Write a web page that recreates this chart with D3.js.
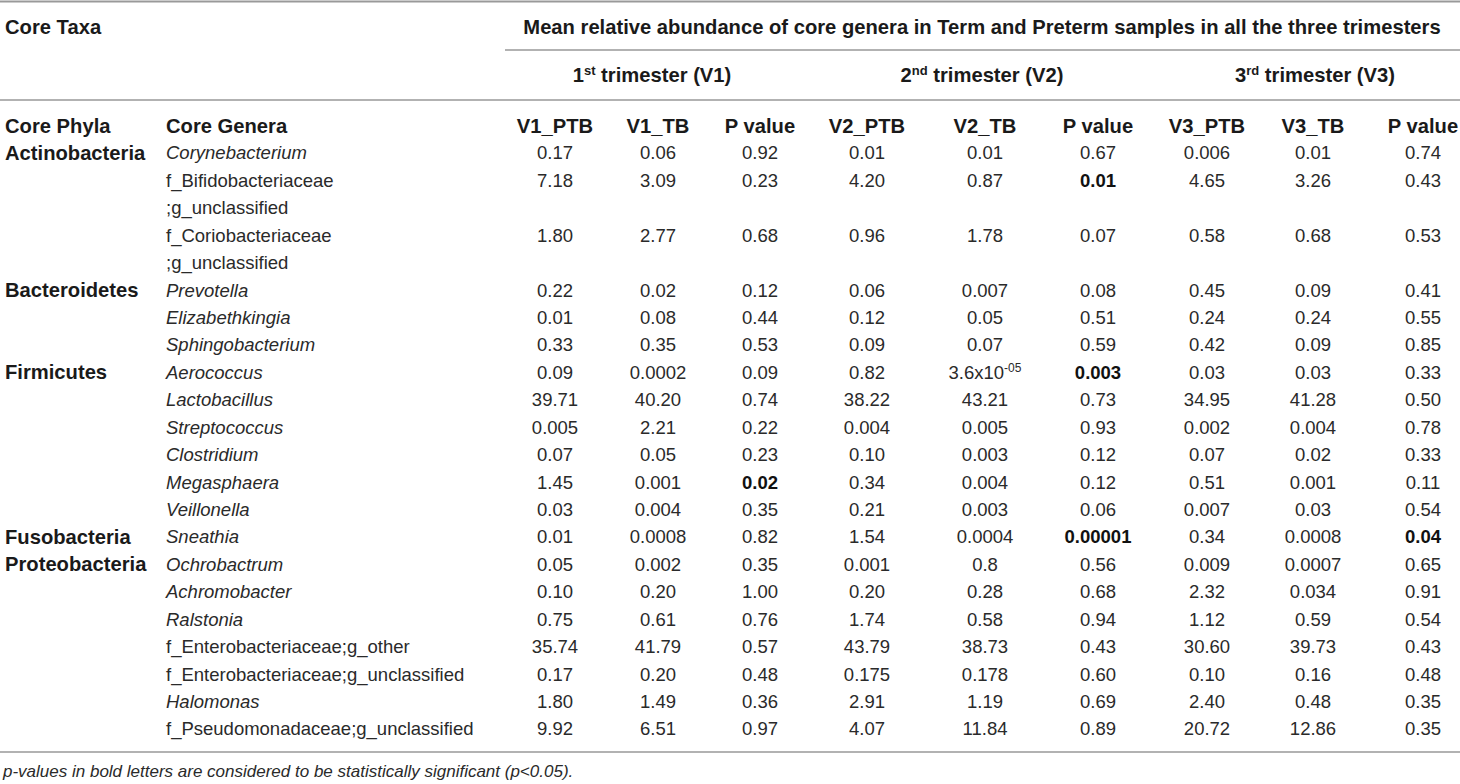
<!DOCTYPE html>
<html>
<head>
<meta charset="utf-8">
<script src="https://cdn.jsdelivr.net/npm/d3@7"></script>
<style>
  body { margin: 0; background: #fff; }
  text { font-family: "Liberation Sans", Arial, sans-serif; fill: #1a1a1a; }
  .hd { font-weight: bold; font-size: 20.2px; }
  .cell { font-size: 18.5px; fill: #2a2a2a; }
</style>
</head>
<body>
<div id="table"></div>
<script>
// Common dimensions
const width = 1460, height = 784;

// Table content
const trimesters = [["1", "st", " trimester (V1)"], ["2", "nd", " trimester (V2)"], ["3", "rd", " trimester (V3)"]];
const columns = ["V1_PTB", "V1_TB", "P value", "V2_PTB", "V2_TB", "P value", "V3_PTB", "V3_TB", "P value"];
const phyla = ["Actinobacteria", "Bacteroidetes", "Firmicutes", "Fusobacteria", "Proteobacteria"];
const phylumFirstRow = [0, 3, 6, 12, 13];
const genera = [
    ["Corynebacterium"], ["f_Bifidobacteriaceae", ";g_unclassified"], ["f_Coriobacteriaceae", ";g_unclassified"],
    ["Prevotella"], ["Elizabethkingia"], ["Sphingobacterium"],
    ["Aerococcus"], ["Lactobacillus"], ["Streptococcus"], ["Clostridium"], ["Megasphaera"], ["Veillonella"],
    ["Sneathia"],
    ["Ochrobactrum"], ["Achromobacter"], ["Ralstonia"], ["f_Enterobacteriaceae;g_other"],
    ["f_Enterobacteriaceae;g_unclassified"], ["Halomonas"], ["f_Pseudomonadaceae;g_unclassified"]
];

// values per column (kept as printed)
const v1PTB = ["0.17", "7.18", "1.80", "0.22", "0.01", "0.33", "0.09", "39.71", "0.005", "0.07", "1.45", "0.03", "0.01", "0.05", "0.10", "0.75", "35.74", "0.17", "1.80", "9.92"];
const v1TB  = ["0.06", "3.09", "2.77", "0.02", "0.08", "0.35", "0.0002", "40.20", "2.21", "0.05", "0.001", "0.004", "0.0008", "0.002", "0.20", "0.61", "41.79", "0.20", "1.49", "6.51"];
const v1P   = ["0.92", "0.23", "0.68", "0.12", "0.44", "0.53", "0.09", "0.74", "0.22", "0.23", "0.02", "0.35", "0.82", "0.35", "1.00", "0.76", "0.57", "0.48", "0.36", "0.97"];
const v2PTB = ["0.01", "4.20", "0.96", "0.06", "0.12", "0.09", "0.82", "38.22", "0.004", "0.10", "0.34", "0.21", "1.54", "0.001", "0.20", "1.74", "43.79", "0.175", "2.91", "4.07"];
const v2TB  = ["0.01", "0.87", "1.78", "0.007", "0.05", "0.07", "3.6x10^-05", "43.21", "0.005", "0.003", "0.004", "0.003", "0.0004", "0.8", "0.28", "0.58", "38.73", "0.178", "1.19", "11.84"];
const v2P   = ["0.67", "0.01", "0.07", "0.08", "0.51", "0.59", "0.003", "0.73", "0.93", "0.12", "0.12", "0.06", "0.00001", "0.56", "0.68", "0.94", "0.43", "0.60", "0.69", "0.89"];
const v3PTB = ["0.006", "4.65", "0.58", "0.45", "0.24", "0.42", "0.03", "34.95", "0.002", "0.07", "0.51", "0.007", "0.34", "0.009", "2.32", "1.12", "30.60", "0.10", "2.40", "20.72"];
const v3TB  = ["0.01", "3.26", "0.68", "0.09", "0.24", "0.09", "0.03", "41.28", "0.004", "0.02", "0.001", "0.03", "0.0008", "0.0007", "0.034", "0.59", "39.73", "0.16", "0.48", "12.86"];
const v3P   = ["0.74", "0.43", "0.53", "0.41", "0.55", "0.85", "0.33", "0.50", "0.78", "0.33", "0.11", "0.54", "0.04", "0.65", "0.91", "0.54", "0.43", "0.48", "0.35", "0.35"];
// significant cells: [column index, row index]
const significant = [[2, 10], [5, 1], [5, 6], [5, 12], [8, 12]];

const footnote = "p-values in bold letters are considered to be statistically significant (p<0.05).";

function drawTable() {
    const svg = d3.select("#table").append("svg").attr("width", width).attr("height", height);

    const valueCols = [v1PTB, v1TB, v1P, v2PTB, v2TB, v2P, v3PTB, v3TB, v3P];

    // line index of each genus row (wrapped names take two lines)
    const rowLine = [];
    let n = 0;
    genera.forEach(g => { rowLine.push(n); n += g.length; });

    const y = d3.scaleLinear().domain([0, n - 1]).range([153, 729]);
    const x = d3.scaleOrdinal().domain(d3.range(columns.length))
        .range([555, 658, 760, 867, 985, 1098, 1207, 1313, 1423]);
    const groupX = d3.scaleOrdinal().domain([0, 1, 2]).range([652, 982, 1315]);

    // rules
    const rules = [[0, width, 1.5, 2], [505, width, 50, 1.5], [0, width, 100, 1.5], [0, width, 752, 1.5]];
    svg.append("g").selectAll("line").data(rules).join("line")
        .attr("x1", d => d[0]).attr("x2", d => d[1])
        .attr("y1", d => d[2]).attr("y2", d => d[2])
        .attr("stroke", "#999").attr("stroke-width", d => d[3]);

    // header
    svg.append("text").attr("class", "hd").attr("x", 5).attr("y", 27).attr("dy", "0.35em").text("Core Taxa");
    svg.append("text").attr("class", "hd").attr("x", 982).attr("y", 27).attr("dy", "0.35em")
        .attr("text-anchor", "middle")
        .text("Mean relative abundance of core genera in Term and Preterm samples in all the three trimesters");

    const tri = svg.append("g").selectAll("text").data(trimesters).join("text")
        .attr("class", "hd").attr("x", (d, i) => groupX(i)).attr("y", 75).attr("dy", "0.35em")
        .attr("text-anchor", "middle");
    tri.append("tspan").text(d => d[0]);
    tri.append("tspan").attr("dy", -7).style("font-size", "13px").text(d => d[1]);
    tri.append("tspan").attr("dy", 7).text(d => d[2]);

    svg.append("text").attr("class", "hd").attr("x", 5).attr("y", 126).attr("dy", "0.35em").text("Core Phyla");
    svg.append("text").attr("class", "hd").attr("x", 166).attr("y", 126).attr("dy", "0.35em").text("Core Genera");
    svg.append("g").selectAll("text").data(columns).join("text")
        .attr("class", "hd").attr("x", (d, i) => x(i)).attr("y", 126).attr("dy", "0.35em")
        .attr("text-anchor", "middle").text(d => d);

    // phyla
    svg.append("g").selectAll("text").data(phyla).join("text")
        .attr("class", "hd").attr("x", 5).attr("y", (d, i) => y(rowLine[phylumFirstRow[i]]))
        .attr("dy", "0.35em").text(d => d);

    // genera
    svg.append("g").selectAll("text").data(genera).join("text")
        .attr("class", "cell").attr("x", 166)
        .style("font-style", d => d[0].startsWith("f_") ? "normal" : "italic")
        .selectAll("tspan").data((d, i) => d.map((t, k) => ({ t, line: rowLine[i] + k }))).join("tspan")
        .attr("x", 166).attr("y", d => y(d.line)).attr("dy", "0.35em").text(d => d.t);

    // values
    const isSig = (c, r) => significant.some(s => s[0] === c && s[1] === r);
    const cells = [];
    valueCols.forEach((col, c) => col.forEach((v, r) => cells.push({ c, r, v })));

    const cell = svg.append("g").selectAll("text").data(cells).join("text")
        .attr("class", "cell")
        .attr("x", d => x(d.c)).attr("y", d => y(rowLine[d.r])).attr("dy", "0.35em")
        .attr("text-anchor", "middle")
        .style("font-weight", d => isSig(d.c, d.r) ? "bold" : "normal")
        .style("fill", d => isSig(d.c, d.r) ? "#111" : null);
    cell.each(function (d) {
        const t = d3.select(this);
        if (d.v.includes("^")) {
            const [base, exp] = d.v.split("^");
            t.append("tspan").text(base);
            t.append("tspan").attr("dy", -7).style("font-size", "12px").text(exp);
        } else {
            t.text(d.v);
        }
    });

    // footnote
    svg.append("text").attr("x", 3).attr("y", 771).attr("dy", "0.35em")
        .style("font-size", "17px").style("font-style", "italic").style("fill", "#2a2a2a")
        .text(footnote);
}

drawTable();
</script>
</body>
</html>
